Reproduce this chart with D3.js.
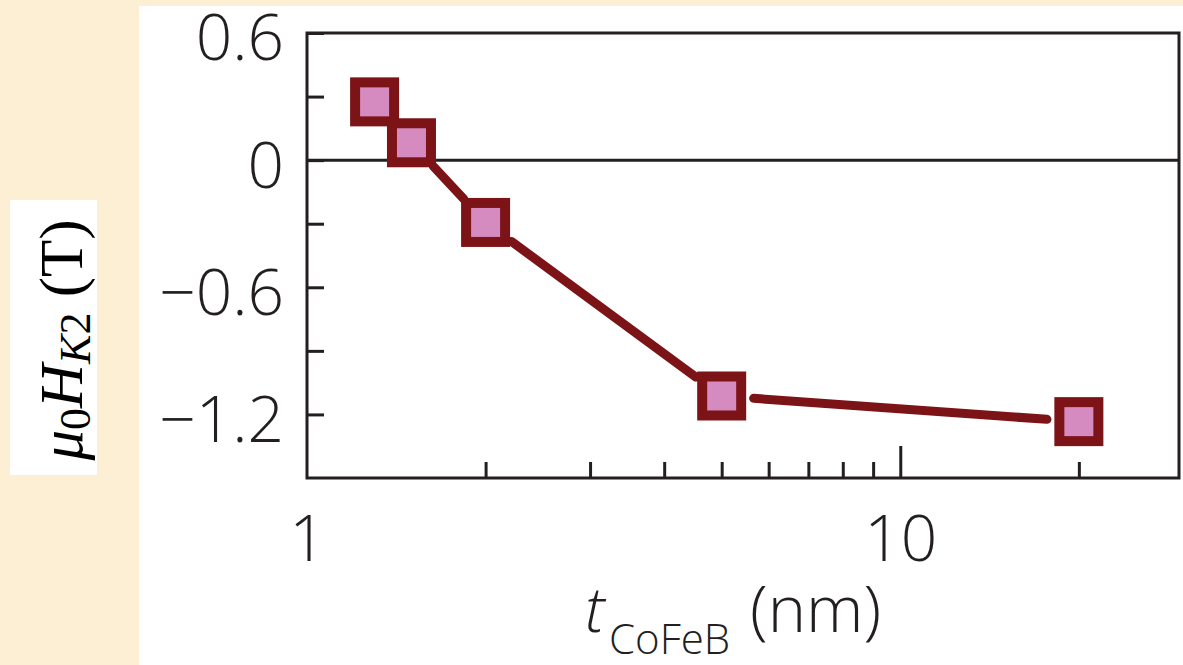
<!DOCTYPE html>
<html>
<head>
<meta charset="utf-8">
<script src="https://cdn.jsdelivr.net/npm/d3@7"></script>
<style>
  html, body { margin: 0; padding: 0; background: #fcefd4; }
  svg { display: block; }
</style>
</head>
<body>
<svg id="chart" width="1183" height="665"></svg>
<script>
// ---- data ----
const thickness = [1.3, 1.5, 2.0, 5.0, 20];          // t_CoFeB (nm)
const hk2 = [0.275, 0.082, -0.294, -1.113, -1.234];   // mu0 H_K2 (T)
const yTickValues = [0.6, 0.3, 0, -0.3, -0.6, -0.9, -1.2];
const yTickLabels = ["0.6", "0", "\u22120.6", "\u22121.2"];
const yLabelledValues = [0.6, 0, -0.6, -1.2];
const xMinorTicks = [2, 3, 4, 5, 6, 7, 8, 9, 20];
const xMajorTicks = [10];
const xTickValues = [1, 10];
const xTickLabels = ["1", "10"];

// ---- layout ----
const W = 1183, H = 665;
const plot = { left: 307, right: 1179, top: 33, bottom: 478 };
const ink = "#231f20";
const markerStroke = "#7c1317";
const markerFill = "#d58bbf";
const sans = "'Open Sans', 'Noto Sans', sans-serif";

const svg = d3.select("#chart");

// background panels
svg.append("rect").attr("x", 0).attr("y", 0).attr("width", W).attr("height", H).attr("fill", "#fcefd4");
svg.append("rect").attr("x", 139).attr("y", 6).attr("width", W - 139).attr("height", H - 6).attr("fill", "#ffffff");
svg.append("rect").attr("x", 10).attr("y", 200).attr("width", 87).attr("height", 275).attr("fill", "#ffffff");

const x = d3.scaleLog().domain([1, 29.5]).range([plot.left, plot.right]);
const y = d3.scaleLinear().domain([-1.5, 0.6]).range([plot.bottom, plot.top]);

// zero line
svg.append("line")
  .attr("x1", plot.left).attr("x2", plot.right)
  .attr("y1", y(0)).attr("y2", y(0))
  .attr("stroke", ink).attr("stroke-width", 3);

// y axis (inward ticks)
const yAxis = d3.axisLeft(y)
  .tickValues(yTickValues)
  .tickSizeInner(-17)
  .tickSizeOuter(0)
  .tickPadding(23)
  .tickFormat(v => {
    const i = yLabelledValues.findIndex(d => Math.abs(d - v) < 1e-9);
    return i >= 0 ? yTickLabels[i] : "";
  });
const gy = svg.append("g").attr("transform", `translate(${plot.left},0)`).call(yAxis);
gy.select(".domain").remove();
gy.selectAll(".tick line").attr("stroke", ink).attr("stroke-width", 3);
gy.selectAll(".tick text")
  .attr("fill", ink)
  .attr("dy", "0.42em")
  .style("font-family", sans)
  .style("font-weight", 300)
  .style("font-size", "64px");

// x axis minor ticks
const xAxisMinor = d3.axisBottom(x).tickValues(xMinorTicks).tickSizeInner(-16).tickSizeOuter(0).tickFormat("");
const gxm = svg.append("g").attr("transform", `translate(0,${plot.bottom})`).call(xAxisMinor);
gxm.select(".domain").remove();
gxm.selectAll(".tick line").attr("stroke", ink).attr("stroke-width", 3);

// x axis major ticks
const xAxisMajor = d3.axisBottom(x).tickValues(xMajorTicks).tickSizeInner(-32).tickSizeOuter(0).tickFormat("");
const gxM = svg.append("g").attr("transform", `translate(0,${plot.bottom})`).call(xAxisMajor);
gxM.select(".domain").remove();
gxM.selectAll(".tick line").attr("stroke", ink).attr("stroke-width", 3);

// x tick labels
const xAxisLabels = d3.axisBottom(x).tickValues(xTickValues).tickSize(0).tickPadding(0)
  .tickFormat((v, i) => xTickLabels[i]);
const gxl = svg.append("g").attr("transform", `translate(0,${plot.bottom})`).call(xAxisLabels);
gxl.select(".domain").remove();
gxl.selectAll(".tick text")
  .attr("y", 83).attr("dy", 0)
  .attr("fill", ink)
  .style("font-family", sans)
  .style("font-weight", 300)
  .style("font-size", "64px");

// frame
svg.append("rect")
  .attr("x", plot.left).attr("y", plot.top)
  .attr("width", plot.right - plot.left).attr("height", plot.bottom - plot.top)
  .attr("fill", "none").attr("stroke", ink).attr("stroke-width", 3);

// data
const pts = thickness.map((t, i) => [x(t), y(hk2[i])]);
const gap = 32;
const lineGen = d3.line();
for (let i = 0; i < pts.length - 1; i++) {
  const [x1, y1] = pts[i], [x2, y2] = pts[i + 1];
  const dx = x2 - x1, dy = y2 - y1, L = Math.hypot(dx, dy);
  if (L <= 2 * gap + 2) continue;
  const ux = dx / L, uy = dy / L;
  svg.append("path")
    .attr("d", lineGen([[x1 + ux * gap, y1 + uy * gap], [x2 - ux * gap, y2 - uy * gap]]))
    .attr("stroke", markerStroke).attr("stroke-width", 9)
    .attr("stroke-linecap", "round").attr("fill", "none");
}
const s = 39;
svg.selectAll("rect.marker").data(thickness).enter().append("rect")
  .attr("class", "marker")
  .attr("x", d => x(d) - s / 2)
  .attr("y", (d, i) => y(hk2[i]) - s / 2)
  .attr("width", s).attr("height", s)
  .attr("fill", markerFill).attr("stroke", markerStroke).attr("stroke-width", 10);

// x title
const xt = svg.append("text")
  .attr("y", 632)
  .attr("fill", ink)
  .style("font-family", sans)
  .style("font-weight", 300);
xt.append("tspan").attr("x", 585).style("font-style", "italic").style("font-size", "62px").text("t");
xt.append("tspan").attr("x", 609).attr("dy", 22).style("font-size", "42px").text("CoFeB");
xt.append("tspan").attr("x", 750).attr("dy", -22).style("font-size", "65px").text("(nm)");

// y title
const yt = svg.append("text")
  .attr("transform", "translate(82,340) rotate(-90)")
  .attr("text-anchor", "middle")
  .attr("fill", "#000")
  .style("font-family", "'Liberation Serif', 'DejaVu Serif', serif")
  .style("font-size", "61px");
yt.append("tspan").style("font-style", "italic").text("\u03bc");
yt.append("tspan").attr("dy", 8).style("font-size", "44px").text("0");
yt.append("tspan").attr("dy", -8).style("font-style", "italic").text("H");
yt.append("tspan").attr("dy", 8).style("font-style", "italic").style("font-size", "44px").text("K");
yt.append("tspan").attr("dy", 0).style("font-size", "44px").text("2");
yt.append("tspan").attr("dy", -8).text(" (T)");
</script>
</body>
</html>
